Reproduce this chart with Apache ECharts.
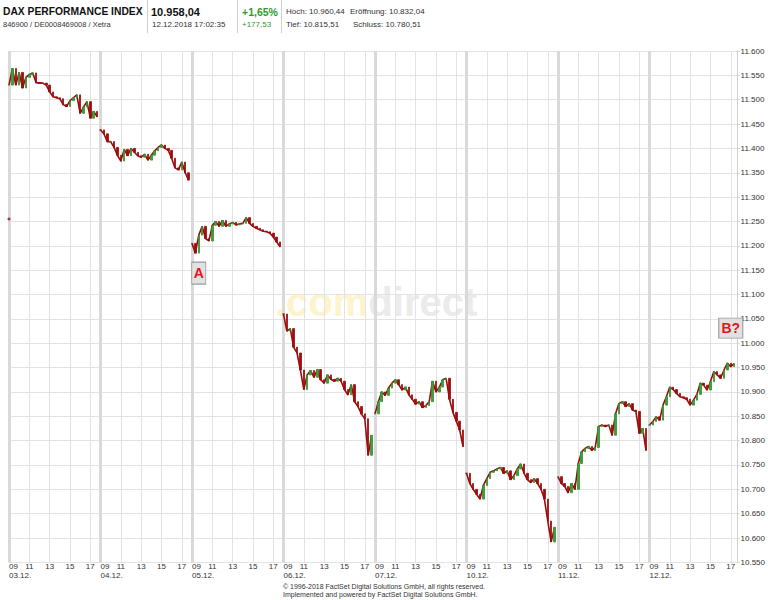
<!DOCTYPE html>
<html><head><meta charset="utf-8">
<script src="https://cdn.jsdelivr.net/npm/echarts@6/dist/echarts.min.js"></script>
<style>html,body{margin:0;padding:0;background:#fff}#c{width:768px;height:600px}</style>
</head><body><div id="c"></div>
<script>
// ---- data ----
const days = ['03.12.','04.12.','05.12.','06.12.','07.12.','10.12.','11.12.','12.12.'];
const slotTimes = ['09:00','09:20','09:40','10:00','10:20','10:40','11:00','11:20','11:40','12:00','12:20','12:40',
  '13:00','13:20','13:40','14:00','14:20','14:40','15:00','15:20','15:40','16:00','16:20','16:40','17:00','17:20','17:40'];
const hourTicks = ['11','13','15','17'];
const prevClose = 11255;
const day1 = [11530,11564,11530,11556,11524,11546,11552,11555,11535,11534,11534,11530,11516,11506,11504,11502,11490,11486,11498,11504,11510,11472,11485,11496,11462,11476,11465];
const day2 = [11438,11430,11414,11414,11402,11386,11374,11398,11385,11400,11392,11385,11382,11388,11376,11386,11395,11402,11407,11400,11396,11380,11360,11356,11372,11350,11335];
const day3 = [11205,11185,11222,11240,11215,11210,11242,11250,11240,11252,11240,11245,11248,11243,11245,11246,11258,11246,11240,11236,11233,11230,11229,11226,11218,11208,11198];
const day4 = [11060,11025,11030,10992,10980,10945,10905,10935,10944,10930,10946,10925,10918,10935,10926,10922,10928,10922,10905,10894,10915,10880,10870,10855,10845,10770,10811];
const day5 = [10855,10880,10900,10893,10908,10918,10925,10915,10904,10910,10894,10885,10875,10880,10868,10872,10880,10922,10900,10910,10925,10928,10885,10858,10840,10822,10788];
const day6 = [10733,10712,10700,10690,10680,10708,10722,10735,10738,10742,10745,10733,10738,10720,10728,10742,10752,10733,10720,10714,10722,10712,10700,10680,10635,10592,10622];
const day7 = [10726,10712,10706,10693,10712,10700,10753,10777,10784,10788,10780,10786,10829,10832,10829,10832,10811,10855,10876,10880,10870,10876,10863,10860,10815,10825,10780];
const day8 = [10832,10839,10849,10842,10873,10890,10910,10905,10897,10890,10888,10885,10873,10883,10895,10918,10914,10904,10921,10942,10935,10928,10945,10959,10952,10958,null];
const yTicks = {min: 10550, max: 11600, step: 50};
const markA = {label: 'A', day: '05.12.', time: '09:40', value: 11144};
const markB = {label: 'B?', day: '12.12.', time: '17:00', value: 11031};
// ---- build ----
const dayValues = [day1, day2, day3, day4, day5, day6, day7, day8];
const N = slotTimes.length;
const categories = [];
const candles = [];
const dayLines = dayValues.map(() => []);
days.forEach((d, di) => {
  const vals = dayValues[di];
  slotTimes.forEach((t, k) => {
    categories.push(d + ' ' + t);
    const v = vals[k];
    dayLines.forEach((arr, li) => arr.push(li === di && v != null ? v : '-'));
    if (v == null) { candles.push('-'); return; }
    const o = k === 0 ? v : vals[k - 1];
    candles.push([o, v, Math.min(o, v), Math.max(o, v)]);
  });
});
const isHour = (i) => (i % N) !== 0 && slotTimes[i % N].slice(3) === '00' && hourTicks.includes(slotTimes[i % N].slice(0, 2));
const isDay = (i) => i % N === 0;
const fmtY = v => Math.floor(v / 1000) + '.' + String(v % 1000).padStart(3, '0');
const FONT = 'Liberation Sans, Arial, Helvetica, sans-serif';
const RED = '#9c0c0c', GREEN = '#3aa23a';

const chart = echarts.init(document.getElementById('c'), null, {renderer: 'svg'});
function mp(m, w, h) {
  return {
    coord: [m.day + ' ' + m.time, m.value], symbol: 'rect', symbolSize: [w, h],
    itemStyle: {color: '#e1e1e1', borderColor: '#9a9a9a', borderWidth: 1},
    label: {show: true, position: 'inside', formatter: m.label, color: '#e8121b', fontWeight: 'bold', fontSize: 14, fontFamily: FONT}
  };
}
const txt = (text, left, top, size, color, bold) => ({
  type: 'text', left, top, silent: true,
  style: {text, fill: color, font: (bold ? 'bold ' : '') + size + 'px ' + FONT}
});
const lineSeries = dayLines.map(arr => ({
  type: 'line', xAxisIndex: 0, data: arr, symbol: 'none', silent: true, z: 1,
  lineStyle: {color: RED, width: 1.6}
}));
chart.setOption({
  animation: false,
  backgroundColor: '#fff',
  grid: {left: 9, right: 28.7, top: 51, bottom: 37.6, containLabel: false},
  xAxis: [{
    type: 'category', data: categories, boundaryGap: false, position: 'bottom',
    axisLine: {show: false}, axisTick: {show: false},
    axisLabel: {interval: (i) => isHour(i), formatter: v => v.split(' ')[1].slice(0, 2), fontSize: 8, color: '#333', fontFamily: FONT, margin: 0, lineHeight: 9},
    splitLine: {show: true, interval: (i) => isHour(i), lineStyle: {color: '#e3e3e3', width: 1}}
  }, {
    type: 'category', data: categories, boundaryGap: false, position: 'bottom', offset: 0,
    axisLine: {show: false}, axisTick: {show: false},
    axisLabel: {interval: (i) => isDay(i), formatter: v => '09\n' + v.split(' ')[0], align: 'left', fontSize: 8, color: '#333', fontFamily: FONT, margin: 0, lineHeight: 9},
    splitLine: {show: true, interval: (i) => isDay(i), lineStyle: {color: '#d9d9d9', width: 3}}
  }],
  yAxis: {
    type: 'value', position: 'right', min: yTicks.min, max: yTicks.max, interval: yTicks.step,
    axisLine: {show: true, lineStyle: {color: '#d0d0d0'}},
    axisTick: {show: true, length: 2, lineStyle: {color: '#d0d0d0'}},
    axisLabel: {formatter: fmtY, fontSize: 8, color: '#333', fontFamily: FONT, margin: 3},
    splitLine: {show: true, lineStyle: {color: '#e3e3e3', width: 1}}
  },
  series: lineSeries.concat([{
    type: 'candlestick', xAxisIndex: 0, data: candles, barWidth: 2, z: 2,
    itemStyle: {color: GREEN, color0: RED, borderColor: '#2f8f2f', borderColor0: RED, borderWidth: 0.8},
    markPoint: {data: [mp(markA, 14, 22), mp(markB, 24, 20)]}
  }, {
    type: 'scatter', xAxisIndex: 0, data: [[categories[0], prevClose]], symbolSize: 3,
    itemStyle: {color: RED}
  }]),
  graphic: [
    {type: 'text', left: 275, top: 282, silent: true, z: -1,
      style: {text: '{a|.com}{b|direct}', rich: {
        a: {fill: '#fdf3cc', font: 'bold 40px ' + FONT},
        b: {fill: '#ebebeb', font: 'bold 40px ' + FONT}}}},
    txt('DAX PERFORMANCE INDEX', 3, 6, 10.3, '#111', true),
    txt('846900 / DE0008469008 / Xetra', 3, 20, 7.5, '#333', false),
    {type: 'rect', left: 147, top: 0, shape: {width: 1, height: 33}, style: {fill: '#cfcfcf'}},
    txt('10.958,04', 151, 6, 11, '#111', true),
    txt('12.12.2018 17:02:35', 152, 20, 8, '#333', false),
    {type: 'rect', left: 237, top: 0, shape: {width: 1, height: 33}, style: {fill: '#cfcfcf'}},
    txt('+1,65%', 242, 6, 10.5, '#2e9b2e', true),
    txt('+177,53', 242, 20, 8, '#2e9b2e', false),
    {type: 'rect', left: 281, top: 0, shape: {width: 1, height: 33}, style: {fill: '#cfcfcf'}},
    txt('Hoch: 10.960,44', 286, 7, 8, '#333', false),
    txt('Eröffnung: 10.832,04', 350, 7, 8, '#333', false),
    txt('Tief: 10.815,51', 286, 20, 8, '#333', false),
    txt('Schluss: 10.780,51', 353, 20, 8, '#333', false),
    {type: 'text', left: 'center', top: 583, silent: true,
      style: {text: '© 1996-2018 FactSet Digital Solutions GmbH, all rights reserved.\nImplemented and powered by FactSet Digital Solutions GmbH.',
        fill: '#333', font: '7px ' + FONT, align: 'center', lineHeight: 7.5}}
  ]
});
</script></body></html>
